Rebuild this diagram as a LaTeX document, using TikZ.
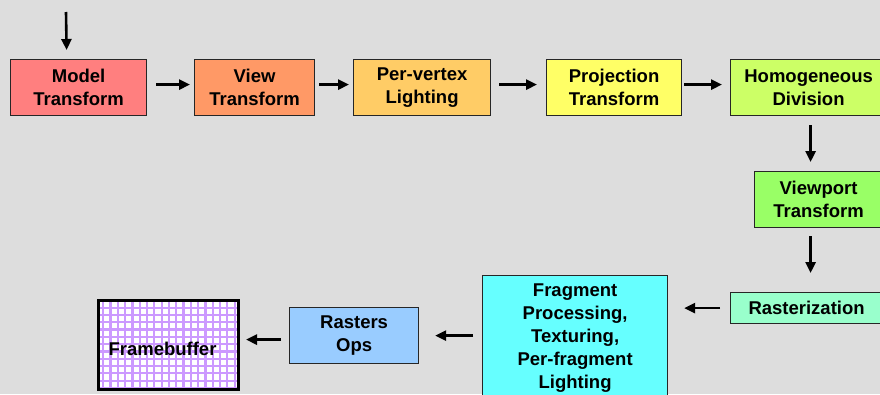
\documentclass[tikz,border=0pt]{standalone}
\usepackage{fontspec}
\setmainfont{Liberation Sans}
\usetikzlibrary{arrows.meta}
\definecolor{bg}{HTML}{DDDDDD}
\definecolor{cmodel}{HTML}{FF7F7F}
\definecolor{cview}{HTML}{FF9966}
\definecolor{cpervertex}{HTML}{FFCC66}
\definecolor{cproj}{HTML}{FFFF66}
\definecolor{chomog}{HTML}{CCFF66}
\definecolor{cviewport}{HTML}{99FF66}
\definecolor{craster}{HTML}{99FFCC}
\definecolor{cfrag}{HTML}{66FFFF}
\definecolor{cops}{HTML}{99CCFF}
\definecolor{cgrid}{HTML}{CC99FF}
\tikzset{
  stagebox/.style={draw=black!85, line width=1.2pt, align=center, inner sep=0pt,
    anchor=north west, font=\bfseries\fontsize{18.5}{23}\selectfont},
  arr/.style={line width=2.6pt, -{Triangle[length=11pt,width=10pt]}}
}
\begin{document}
\begin{tikzpicture}[x=1pt,y=-1pt]
\useasboundingbox (0,0) rectangle (880,394);
\clip (0,0) rectangle (880,394);
\fill[bg] (0,0) rectangle (880,394);

\node[stagebox, fill=cmodel, minimum width=136pt, minimum height=56pt] (model) at (10,59) {Model\\Transform};
\node[stagebox, fill=cview, minimum width=120pt, minimum height=56pt] (view) at (194,59) {View\\Transform};
\node[stagebox, fill=cpervertex, minimum width=137pt, minimum height=56pt] (pervertex) at (353,59) {Per-vertex\\Lighting};
\node[stagebox, fill=cproj, minimum width=135pt, minimum height=56pt] (proj) at (546,59) {Projection\\Transform};
\node[stagebox, fill=chomog, minimum width=156pt, minimum height=56pt] (homog) at (730,59) {Homogeneous\\Division};
\node[stagebox, fill=cviewport, minimum width=128pt, minimum height=56pt] (viewport) at (754,171) {Viewport\\Transform};
\node[stagebox, fill=craster, minimum width=152pt, minimum height=31pt] (raster) at (730,292) {Rasterization};
\node[stagebox, fill=cfrag, minimum width=185pt, minimum height=125pt] (frag) at (482,275) {Fragment\\Processing,\\Texturing,\\Per-fragment\\Lighting};
\node[stagebox, fill=cops, minimum width=129pt, minimum height=56pt] (ops) at (289,307) {Rasters\\Ops};

% framebuffer
\begin{scope}
\clip (97,299) rectangle (237,388);
\fill[white] (97,299) rectangle (237,388);
\draw[cgrid, line width=2.2pt, step=7.3pt, xshift=1pt, yshift=-1pt] (90,290) grid (245,395);
\end{scope}
\node[draw=black, line width=3pt, minimum width=140pt, minimum height=89pt, anchor=north west, inner sep=0pt] (fb) at (97,299) {};
\node[font=\bfseries\fontsize{18.5}{23}\selectfont, inner sep=0pt] (fbtext) at ([xshift=-6pt, yshift=-4pt]fb.center) {Framebuffer};

\coordinate (start) at (66,12);
\draw[arr] (start) -- ([xshift=-12pt, yshift=9pt]model.north);
\draw[arr, shorten <=9pt, shorten >=4pt] ([yshift=3pt]model.east) -- ([yshift=3pt]view.west);
\draw[arr, shorten <=4pt, shorten >=4pt] ([yshift=3pt]view.east) -- ([yshift=3pt]pervertex.west);
\draw[arr, shorten <=8pt, shorten >=9pt] ([yshift=3pt]pervertex.east) -- ([yshift=3pt]proj.west);
\draw[arr, shorten <=2pt, shorten >=8pt] ([yshift=3pt]proj.east) -- ([yshift=3pt]homog.west);
\draw[arr, shorten <=9pt, shorten >=9pt] ([xshift=2pt]homog.south) -- ([xshift=-8pt]viewport.north);
\draw[arr, shorten <=8pt, shorten >=19pt] ([xshift=-8pt]viewport.south) -- ([xshift=-8pt]viewport.south |- raster.north);
\draw[arr, shorten <=10pt, shorten >=16pt] (raster.west) -- (raster.west -| frag.east);
\draw[arr, shorten <=9pt, shorten >=16pt] (frag.west |- ops.east) -- (ops.east);
\draw[arr, shorten <=8pt, shorten >=6pt] ([yshift=-4pt]ops.west) -- ([yshift=-4pt]ops.west -| fb.east);
\end{tikzpicture}
\end{document}
